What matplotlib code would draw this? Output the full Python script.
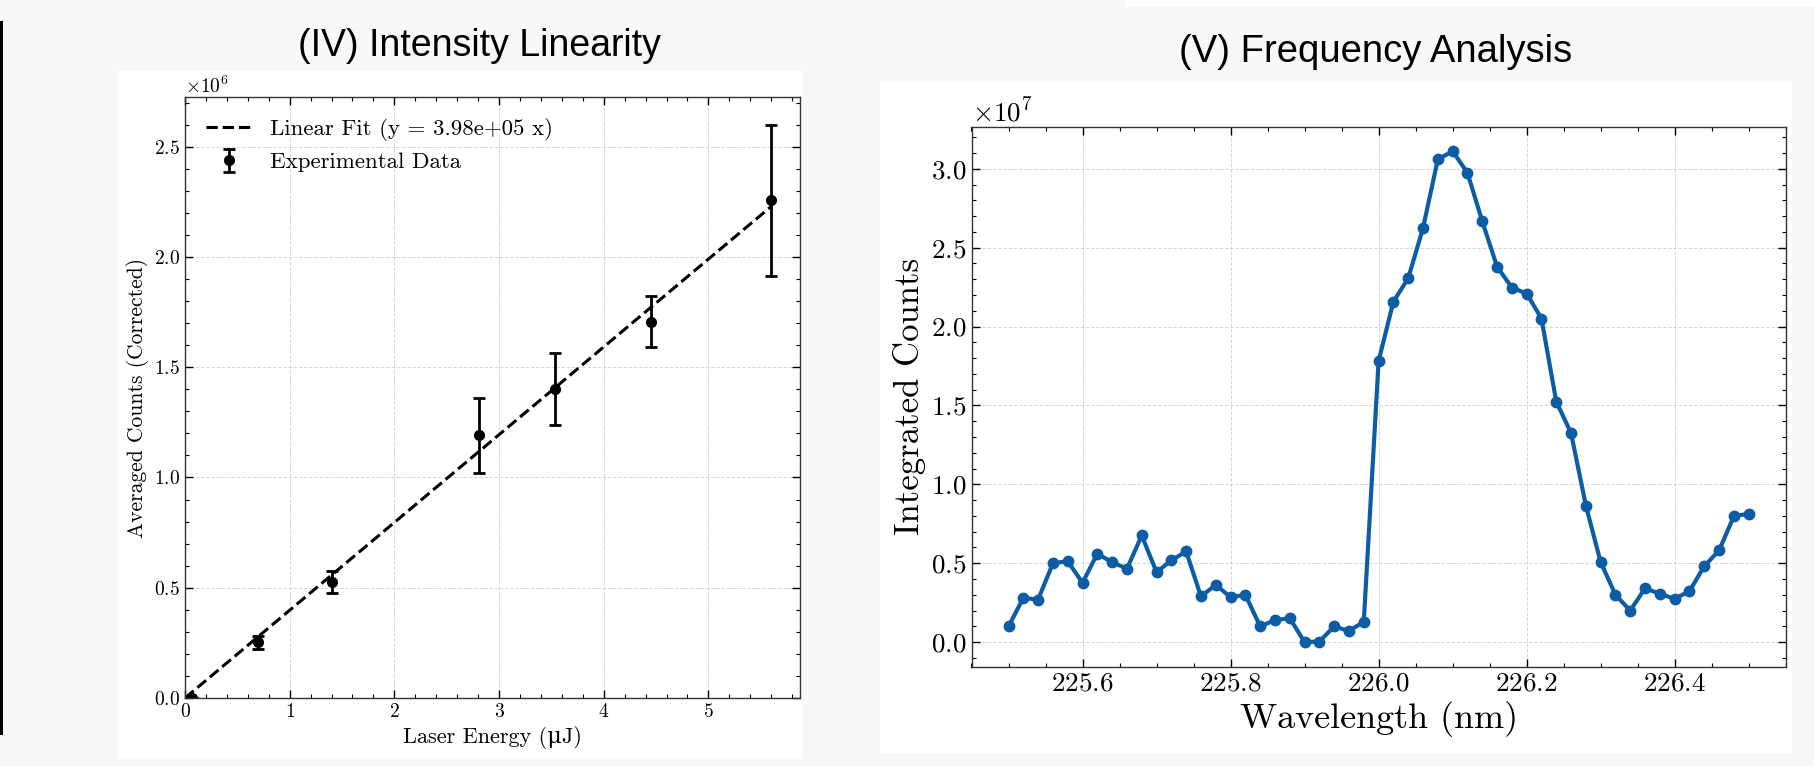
import matplotlib
matplotlib.use("Agg")
import matplotlib.pyplot as plt
from matplotlib.patches import Rectangle
from matplotlib.ticker import AutoMinorLocator

# ---- data: intensity linearity ----
energy_uj = [0.07, 0.70, 1.40, 2.81, 3.53, 4.45, 5.60]
counts_avg = [0.0, 0.252e6, 0.526e6, 1.192e6, 1.401e6, 1.707e6, 2.256e6]
counts_err = [0.0, 0.03e6, 0.05e6, 0.17e6, 0.163e6, 0.115e6, 0.342e6]
fit_slope = 3.98e5

# ---- data: frequency scan ----
wavelength_nm = [225.50, 225.52, 225.54, 225.56, 225.58, 225.60, 225.62, 225.64,
                 225.66, 225.68, 225.70, 225.72, 225.74, 225.76, 225.78, 225.80,
                 225.82, 225.84, 225.86, 225.88, 225.90, 225.92, 225.94, 225.96,
                 225.98, 226.00, 226.02, 226.04, 226.06, 226.08, 226.10, 226.12,
                 226.14, 226.16, 226.18, 226.20, 226.22, 226.24, 226.26, 226.28,
                 226.30, 226.32, 226.34, 226.36, 226.38, 226.40, 226.42, 226.44,
                 226.46, 226.48, 226.50]
integrated_counts = [0.10, 0.28, 0.27, 0.50, 0.513, 0.376, 0.56, 0.507,
                     0.465, 0.676, 0.444, 0.518, 0.575, 0.29, 0.363, 0.285,
                     0.30, 0.10, 0.14, 0.152, 0.0, 0.004, 0.10, 0.07,
                     0.13, 1.782, 2.158, 2.306, 2.624, 3.059, 3.111, 2.975,
                     2.668, 2.380, 2.247, 2.209, 2.051, 1.525, 1.325, 0.866,
                     0.507, 0.30, 0.20, 0.342, 0.306, 0.275, 0.323, 0.482,
                     0.581, 0.799, 0.813]
integrated_counts = [v * 1e7 for v in integrated_counts]

plt.rcParams['font.family'] = ['cmr10', 'DejaVu Serif']
plt.rcParams['mathtext.fontset'] = 'cm'
plt.rcParams['axes.formatter.use_mathtext'] = True
plt.rcParams['axes.unicode_minus'] = False

W, H = 1815, 766
fig = plt.figure(figsize=(W / 100, H / 100), dpi=100)
fig.patch.set_facecolor('#f8f8f8')


def px_rect(x0, y0, x1, y1, color):
    fig.patches.append(Rectangle((x0 / W, 1 - y1 / H), (x1 - x0) / W, (y1 - y0) / H,
                                 transform=fig.transFigure, facecolor=color,
                                 edgecolor='none', zorder=-5))


def px_axes(x0, y0, x1, y1):
    return fig.add_axes([x0 / W, 1 - y1 / H, (x1 - x0) / W, (y1 - y0) / H])


# background bits of the screenshot
px_rect(119, 71, 802, 758, 'white')
px_rect(880, 82, 1792, 753, 'white')
px_rect(1125, 0, 1815, 7, 'white')
px_rect(0, 21, 3, 735, 'black')


def style_axes(ax, size):
    ax.tick_params(which='both', direction='in', top=True, right=True, labelsize=size)
    ax.tick_params(which='major', length=6, width=1)
    ax.tick_params(which='minor', length=3, width=0.8)
    ax.xaxis.set_minor_locator(AutoMinorLocator())
    ax.yaxis.set_minor_locator(AutoMinorLocator())
    ax.grid(True, linestyle='--', color='#cccccc', linewidth=0.7, alpha=0.8)
    ax.set_axisbelow(True)
    for s in ax.spines.values():
        s.set_color('#333333')
        s.set_linewidth(1.0)
    ax.yaxis.get_offset_text().set_fontsize(size)


# ---- (IV) Intensity Linearity ----
ax1 = px_axes(185, 97, 800, 698)
ax1.plot([0, energy_uj[-1]], [0, fit_slope * energy_uj[-1]], 'k--', lw=2.2,
         label='Linear Fit (y = 3.98e+05 x)')
ax1.errorbar(energy_uj, counts_avg, yerr=counts_err, fmt='o', color='black',
             ms=7, lw=2, capsize=4, capthick=2, label='Experimental Data')
ax1.set_xlim(0, 5.875)
ax1.set_ylim(0, 2.725e6)
ax1.set_xlabel('Laser Energy (μJ)', fontsize=16)
ax1.set_ylabel('Averaged Counts (Corrected)', fontsize=15.5)
style_axes(ax1, 14)
ax1.legend(loc='upper left', frameon=False, fontsize=16.5)

# ---- (V) Frequency Analysis ----
ax2 = px_axes(971.5, 126.7, 1785.7, 666.7)
ax2.plot(wavelength_nm, integrated_counts, '-o', color='#0C5DA5', lw=3, ms=7.5)
ax2.set_xticks([225.6, 225.8, 226.0, 226.2, 226.4])
ax2.set_xlabel('Wavelength (nm)', fontsize=26)
ax2.set_ylabel('Integrated Counts', fontsize=25)
style_axes(ax2, 19.5)

title_font = ['Liberation Sans Narrow', 'Liberation Sans', 'DejaVu Sans']
fig.text(479 / W, 1 - 46 / H, '(IV) Intensity Linearity', ha='center', va='center',
         fontsize=27, family=title_font)
fig.text(1376 / W, 1 - 52 / H, '(V) Frequency Analysis', ha='center', va='center',
         fontsize=27.5, family=title_font)

fig.savefig('out.png', dpi=100, facecolor=fig.get_facecolor())
